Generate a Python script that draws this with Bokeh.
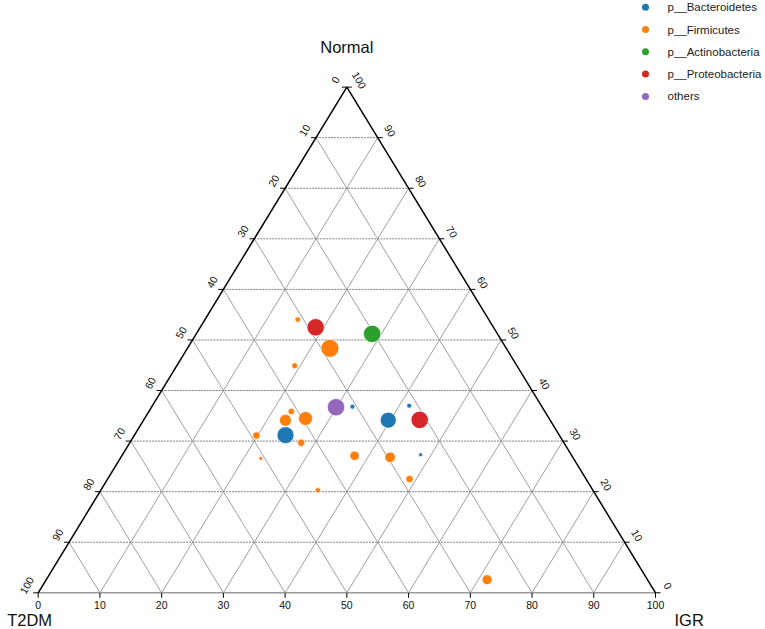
import math
from bokeh.plotting import figure
from bokeh.models import Range1d, ColumnDataSource
from bokeh.embed import file_html
from bokeh.resources import INLINE
from bokeh.core.properties import value

# ---------------- data ----------------
phyla = ["p__Bacteroidetes", "p__Firmicutes", "p__Actinobacteria", "p__Proteobacteria", "others"]
phylum_colors = ["#1f77b4", "#ff7f0e", "#2ca02c", "#d62728", "#9467bd"]

point_phylum = [
    "p__Bacteroidetes", "p__Bacteroidetes", "p__Bacteroidetes", "p__Bacteroidetes", "p__Bacteroidetes",
    "p__Firmicutes", "p__Firmicutes", "p__Firmicutes", "p__Firmicutes", "p__Firmicutes",
    "p__Firmicutes", "p__Firmicutes", "p__Firmicutes", "p__Firmicutes", "p__Firmicutes",
    "p__Firmicutes", "p__Firmicutes", "p__Firmicutes", "p__Firmicutes",
    "p__Proteobacteria", "p__Proteobacteria",
    "p__Actinobacteria",
    "others",
]
t2dm = [44.4, 26.2, 30.7, 21.4, 24.4,
        30.9, 28.6, 36.0, 41.1, 42.9, 39.5, 49.1, 42.6, 50.7, 35.2, 29.6, 28.6, 44.6, 26.0,
        28.8, 21.1,
        20.3,
        33.4]
normal = [31.2, 34.1, 36.8, 37.0, 27.3,
          54.0, 48.4, 44.9, 35.9, 34.1, 34.5, 31.1, 29.7, 26.6, 27.1, 26.8, 22.5, 20.3, 2.6,
          52.5, 34.2,
          51.2,
          36.7]
igr = [24.5, 39.6, 32.5, 41.6, 48.3,
       15.0, 23.1, 19.1, 23.1, 23.0, 26.1, 19.8, 27.8, 22.8, 37.7, 43.6, 48.9, 35.2, 71.5,
       18.7, 44.7,
       28.5,
       29.9]
abundance = [8.0, 7.1, 0.69, 0.69, 0.44,
             0.87, 9.0, 1.0, 1.21, 4.0, 5.44, 1.52, 1.52, 0.44, 2.45, 3.12, 1.52, 0.81, 2.78,
             8.4, 8.4,
             8.4,
             8.4]

tick_values = list(range(0, 101, 10))
grid_levels = list(range(10, 100, 10))
axis_titles = {"left": "T2DM", "top": "Normal", "right": "IGR"}

# ---------------- layout ----------------
W, H = 765, 629
X0, Y0, TW, TH = 37.7, 36.7, 617.3, 505.7
FONT = "Liberation Sans"


def tern(t, n, i):
    s = t + n + i
    n, i = n / s, i / s
    return X0 + (i + n / 2.0) * TW, Y0 + n * TH


p = figure(width=W, height=H, x_range=Range1d(0, W), y_range=Range1d(0, H),
           output_backend="svg", toolbar_location=None, min_border=0,
           x_axis_location=None, y_axis_location=None)
p.grid.visible = False
p.outline_line_color = None
p.background_fill_color = "white"

# grid lines
hx0, hy0, hx1, hy1 = [], [], [], []
dx0, dy0, dx1, dy1 = [], [], [], []
for v in grid_levels:
    a = tern(100 - v, v, 0); b = tern(0, v, 100 - v)
    hx0.append(a[0]); hy0.append(a[1]); hx1.append(b[0]); hy1.append(b[1])
    a = tern(100 - v, 0, v); b = tern(0, 100 - v, v)
    dx0.append(a[0]); dy0.append(a[1]); dx1.append(b[0]); dy1.append(b[1])
    a = tern(v, 0, 100 - v); b = tern(v, 100 - v, 0)
    dx0.append(a[0]); dy0.append(a[1]); dx1.append(b[0]); dy1.append(b[1])
p.segment(dx0, dy0, dx1, dy1, line_color="#a0a0a0", line_width=1)
p.segment(hx0, hy0, hx1, hy1, line_color="#808080", line_width=1, line_dash="2 1")

# edges
A = tern(100, 0, 0); B = tern(0, 100, 0); C = tern(0, 0, 100)
p.segment([A[0]], [A[1]], [C[0]], [C[1]], line_color="#999999", line_width=1.5)
p.segment([A[0], B[0]], [A[1], B[1]], [B[0], C[0]], [B[1], C[1]], line_color="black", line_width=1.5)

# ticks and tick labels
TL = 5
lx, ly, rx, ry, bx, by = [], [], [], [], [], []
for v in tick_values:
    x, y = tern(v, 100 - v, 0); lx.append(x); ly.append(y)
    x, y = tern(0, v, 100 - v); rx.append(x); ry.append(y)
    x, y = tern(100 - v, 0, v); bx.append(x); by.append(y)
labels = [str(v) for v in tick_values]
p.segment([x - TL for x in lx], ly, lx, ly, line_color="black", line_width=1)
p.segment(rx, ry, [x + TL for x in rx], ry, line_color="black", line_width=1)
p.segment(bx, by, bx, [y - TL for y in by], line_color="black", line_width=1)
tick_style = dict(text_font=value(FONT), text_font_size="10.5px", text_color="#111111",
                  text_align="center", text_baseline="middle")
p.text([x - 11.5 for x in lx], [y + 7.5 for y in ly], text=labels, angle=math.pi / 3, **tick_style)
p.text([x + 12.5 for x in rx], [y + 7 for y in ry], text=labels, angle=-math.pi / 3, **tick_style)
p.text(bx, [y - 12.2 for y in by], text=labels, **tick_style)

# axis titles
title_style = dict(text_font=value(FONT), text_font_size="16.5px", text_color="#111111",
                   text_baseline="middle")
p.text([B[0]], [582.8], text=[axis_titles["top"]], text_align="center", **title_style)
p.text([6.7], [10.0], text=[axis_titles["left"]], text_align="left", **title_style)
p.text([674], [10.0], text=[axis_titles["right"]], text_align="left", **title_style)

# points
px, py, pc, ps = [], [], [], []
for ph, t, n, i, a in zip(point_phylum, t2dm, normal, igr, abundance):
    x, y = tern(t, n, i)
    px.append(x); py.append(y)
    pc.append(phylum_colors[phyla.index(ph)])
    ps.append(6.0 * math.sqrt(a))
src = ColumnDataSource(dict(x=px, y=py, c=pc, s=ps, phylum=point_phylum))
p.scatter("x", "y", size="s", fill_color="c", line_color="white", line_width=0.7, source=src)

# legend
LX, LY, LSP = 645, 622.3, 22.3
ly_rows = [LY - k * LSP for k in range(len(phyla))]
p.scatter([LX] * len(phyla), ly_rows, size=7, fill_color=phylum_colors, line_color=None)
p.text([LX + 22] * len(phyla), ly_rows, text=phyla, text_font=value(FONT), text_font_size="11.5px",
       text_color="#222222", text_align="left", text_baseline="middle")

open("out.html", "w").write(file_html(p, INLINE))
